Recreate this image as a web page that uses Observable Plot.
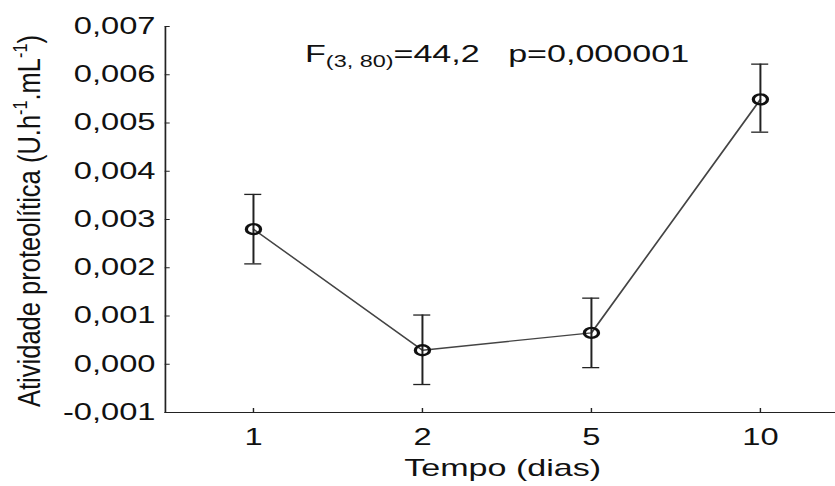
<!DOCTYPE html>
<html>
<head>
<meta charset="utf-8">
<script src="https://cdn.jsdelivr.net/npm/d3@7"></script>
<script src="https://cdn.jsdelivr.net/npm/@observablehq/plot@0.6"></script>
<style>
  html, body { margin: 0; padding: 0; background: white; overflow: hidden; }
  #chart svg { transform: scaleX(1.42); transform-origin: 0 0; display: block; }
</style>
</head>
<body>
<div id="chart"></div>
<script>
// Data
const dias = ["1", "2", "5", "10"];
const media = [0.0028, 0.00029, 0.00065, 0.00549];
const erroInf = [0.00208, -0.00042, -0.00007, 0.00481];
const erroSup = [0.00352, 0.00102, 0.00137, 0.00622];
const yTicks = [-0.001, 0, 0.001, 0.002, 0.003, 0.004, 0.005, 0.006, 0.007];

const data = dias.map((d, i) => ({dia: d, media: media[i], lo: erroInf[i], hi: erroSup[i]}));
const fmt = d => (d < 0 ? "-" : "") + Math.abs(d).toFixed(3).replace(".", ",");

const plot = Plot.plot({
  width: 588,
  height: 486,
  marginLeft: 116,
  marginRight: 0,
  marginTop: 26,
  marginBottom: 74,
  style: {fontFamily: "'Liberation Sans', Arial, sans-serif", fontSize: "23px", color: "#111", background: "white", overflow: "visible"},
  x: {type: "band", domain: dias, range: [116.8, 596.4], paddingInner: 0.9, paddingOuter: 0.45, align: 0.5},
  y: {domain: [-0.001, 0.007]},
  marks: [
    Plot.frame({anchor: "left", stroke: "#222", strokeWidth: 1.2}),
    Plot.frame({anchor: "bottom", stroke: "#222", strokeWidth: 1.2}),
    Plot.axisY({ticks: yTicks, tickFormat: fmt, tickSize: -3.5, tickPadding: 10.5, label: null, stroke: "#222"}),
    Plot.axisX({tickSize: -4, tickPadding: 20, label: null, stroke: "#222"}),
    Plot.line(data, {x: "dia", y: "media", stroke: "#444", strokeWidth: 1.3}),
    Plot.ruleX(data, {x: "dia", y1: "lo", y2: "hi", stroke: "#222", strokeWidth: 1.4}),
    Plot.tickY(data, {x: "dia", y: "lo", stroke: "#222", strokeWidth: 1.3}),
    Plot.tickY(data, {x: "dia", y: "hi", stroke: "#222", strokeWidth: 1.3}),
    Plot.dot(data, {x: "dia", y: "media", r: 5, stroke: "#111", strokeWidth: 2.3, fill: "none"})
  ]
});

const svg = d3.select(plot);
// Statistics annotation
const ann = svg.append("text")
  .attr("x", 214.8).attr("y", 62)
  .attr("text-anchor", "start")
  .attr("font-size", 24).attr("fill", "#111");
ann.append("tspan").text("F");
ann.append("tspan").attr("font-size", 16.5).attr("dy", 5).text("(3, 80)");
ann.append("tspan").attr("dy", -5).text("=44,2\u00a0\u00a0\u00a0p=0,000001");

// X axis label
svg.append("text")
  .attr("x", 354).attr("y", 476)
  .attr("text-anchor", "middle")
  .attr("font-size", 24).attr("fill", "#111")
  .text("Tempo (dias)");

// Y axis label
const yl = svg.append("text")
  .attr("transform", "translate(28,221) rotate(-90)")
  .attr("text-anchor", "middle")
  .attr("font-size", 22).attr("fill", "#111")
  .attr("textLength", 372).attr("lengthAdjust", "spacingAndGlyphs");
yl.append("tspan").text("Atividade proteolítica (U.h");
yl.append("tspan").attr("font-size", 14).attr("dy", -9).text("-1");
yl.append("tspan").attr("dy", 9).text(".mL");
yl.append("tspan").attr("font-size", 14).attr("dy", -9).text("-1");
yl.append("tspan").attr("dy", 9).text(")");

document.getElementById("chart").appendChild(plot);
</script>
</body>
</html>
